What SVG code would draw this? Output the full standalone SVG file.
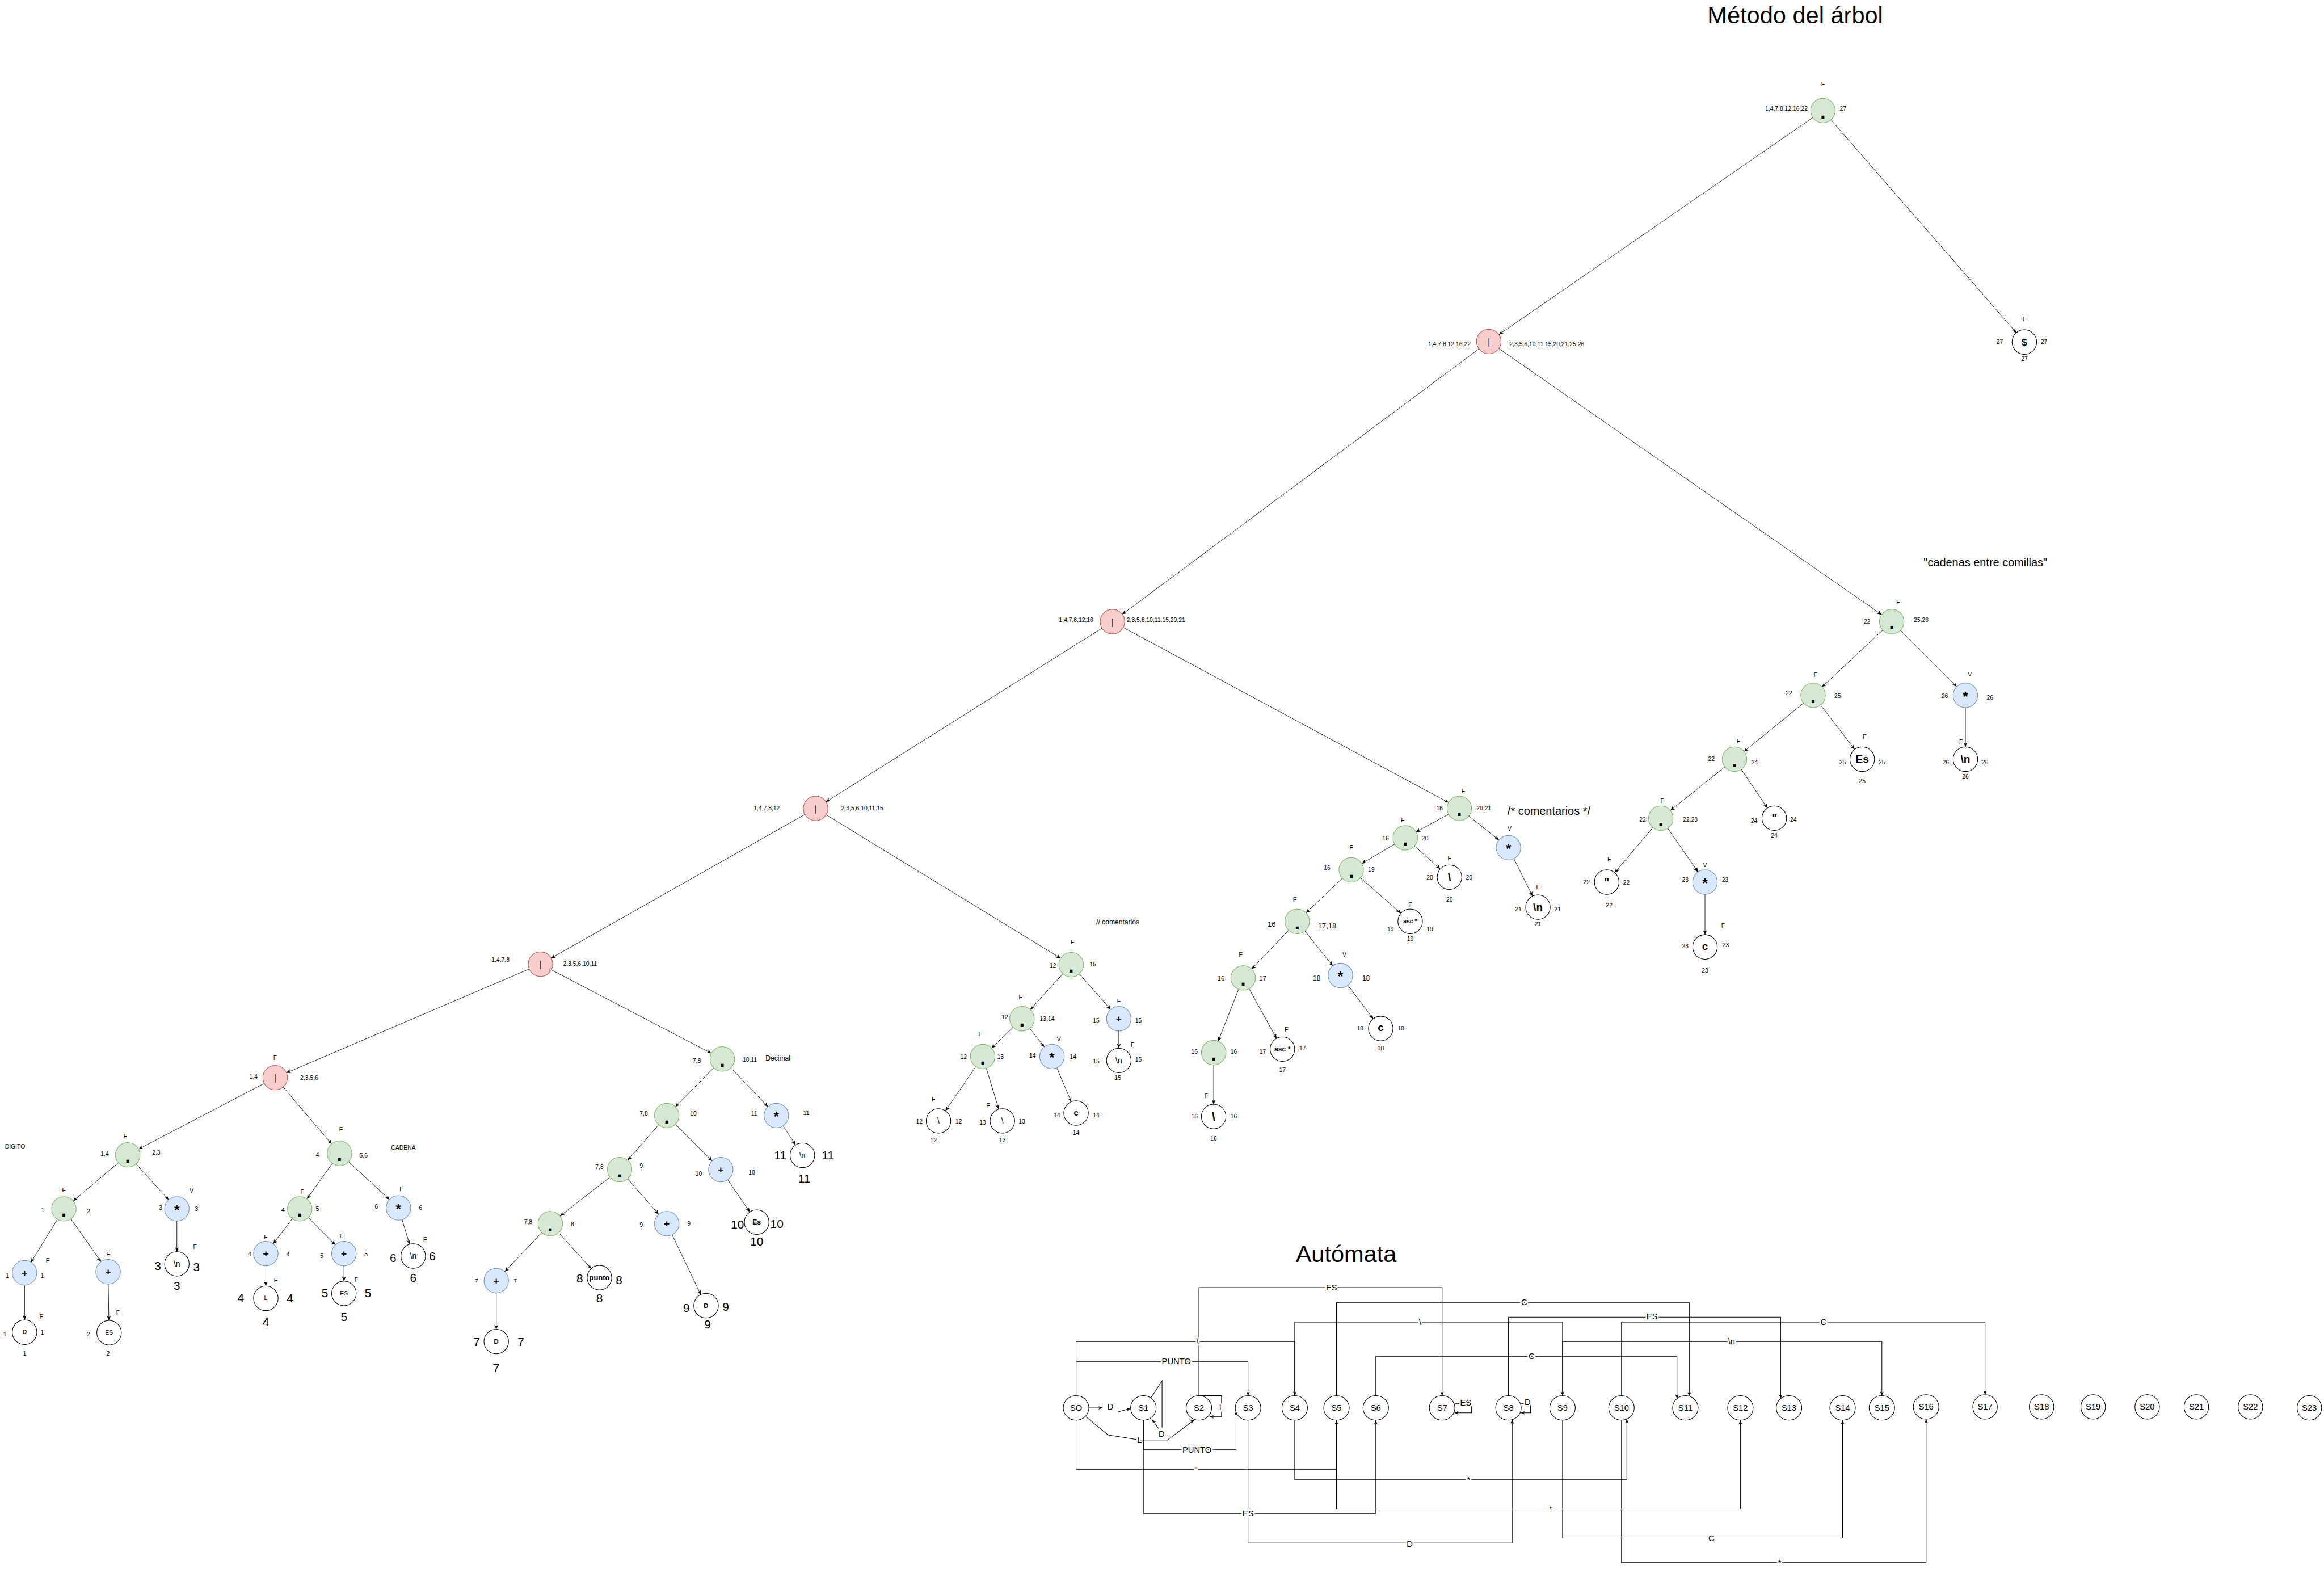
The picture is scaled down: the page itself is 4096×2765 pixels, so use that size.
<svg xmlns="http://www.w3.org/2000/svg" width="4096" height="2765" viewBox="0 0 4096 2765">
<style>
text{font-family:"Liberation Sans",Arial,Helvetica,sans-serif;fill:#000}
.g{fill:#d5e8d4;stroke:#82b366;stroke-width:1.2}
.r{fill:#f8cecc;stroke:#b85450;stroke-width:1.2}
.b{fill:#dae8fc;stroke:#6c8ebf;stroke-width:1.2}
.w{fill:#fff;stroke:#000;stroke-width:1.2}
.e line{stroke:#000;stroke-width:1;marker-end:url(#ta)}
.a path{fill:none;stroke:#000;stroke-width:1.2;marker-end:url(#aa)}
.l{font-size:12px;text-anchor:middle;dominant-baseline:central}
.ls{font-size:12px;text-anchor:start;dominant-baseline:central}
.le{font-size:12px;text-anchor:end;dominant-baseline:central}
.x{text-anchor:middle;dominant-baseline:central;font-weight:bold}
.nb{font-weight:normal}
.f11{font-size:11px}.f12{font-size:12px}.f13{font-size:13px}.f14{font-size:14px}.f15{font-size:15px}.f16{font-size:16px}.f17{font-size:17px}.f20{font-size:20px}.f22{font-size:22px}.f24{font-size:24px}
.n{font-size:24px}
.dot{font-size:40px;font-weight:bold;text-anchor:middle}
.st{font-size:28px;font-weight:bold;text-anchor:middle}
.pl{font-size:20px;font-weight:bold;text-anchor:middle;dominant-baseline:central}
.pi{font-size:18px;fill:#333;text-anchor:middle;dominant-baseline:central}
.sl{font-size:17px;text-anchor:middle;dominant-baseline:central}
.el{font-size:17px;text-anchor:middle;dominant-baseline:central;stroke:#fff;stroke-width:6px;paint-order:stroke;stroke-linejoin:round}
.ttl{font-size:48px}
.cap{font-size:23px}
</style>
<defs>
<marker id="ta" markerUnits="userSpaceOnUse" markerWidth="36" markerHeight="8" refX="34" refY="4" orient="auto" overflow="visible"><path d="M0,0 L9,4 L0,8 L2.5,4 z" fill="#000"/></marker>
<marker id="aa" markerUnits="userSpaceOnUse" markerWidth="9" markerHeight="8" refX="8" refY="3.5" orient="auto" overflow="visible"><path d="M0,0 L8,3.5 L0,7 L2,3.5 z" fill="#000"/></marker>
</defs>
<rect width="4096" height="2765" fill="#fff"/>
<g transform="scale(0.866)">
<g id="titles">
<text class="ttl" x="3475" y="47">Método del árbol</text>
<text class="ttl" x="2637" y="2568">Autómata</text>
<text class="cap" x="3915" y="1153">"cadenas entre comillas"</text>
<text class="cap" x="3068" y="1658">/* comentarios */</text>
<text class="f14" x="2231" y="1881">// comentarios</text>
<text class="f14" x="1558" y="2158">Decimal</text>
<text class="f12" x="10" y="2337">DIGITO</text>
<text class="f12" x="796" y="2340">CADENA</text>
</g>
<g id="tree-edges" class="e">
<line x1="3710" y1="225" x2="3030" y2="695"/>
<line x1="3710" y1="225" x2="4120" y2="696"/>
<line x1="3030" y1="695" x2="2264" y2="1265"/>
<line x1="3030" y1="695" x2="3850" y2="1265"/>
<line x1="2264" y1="1265" x2="1660" y2="1645"/>
<line x1="2264" y1="1265" x2="2970" y2="1645"/>
<line x1="1660" y1="1645" x2="1100" y2="1962"/>
<line x1="1660" y1="1645" x2="2180" y2="1963"/>
<line x1="1100" y1="1962" x2="560" y2="2193"/>
<line x1="1100" y1="1962" x2="1470" y2="2155"/>
<line x1="560" y1="2193" x2="260" y2="2350"/>
<line x1="560" y1="2193" x2="691" y2="2347"/>
<line x1="260" y1="2350" x2="130" y2="2460"/>
<line x1="260" y1="2350" x2="360" y2="2460"/>
<line x1="130" y1="2460" x2="50" y2="2590"/>
<line x1="130" y1="2460" x2="220" y2="2588"/>
<line x1="50" y1="2590" x2="50" y2="2711"/>
<line x1="220" y1="2588" x2="222" y2="2712"/>
<line x1="360" y1="2460" x2="360" y2="2572"/>
<line x1="691" y1="2347" x2="610" y2="2460"/>
<line x1="691" y1="2347" x2="811" y2="2458"/>
<line x1="610" y1="2460" x2="541" y2="2551"/>
<line x1="610" y1="2460" x2="700" y2="2551"/>
<line x1="541" y1="2551" x2="541" y2="2642"/>
<line x1="700" y1="2551" x2="700" y2="2632"/>
<line x1="811" y1="2458" x2="841" y2="2556"/>
<line x1="1470" y1="2155" x2="1357" y2="2270"/>
<line x1="1470" y1="2155" x2="1580" y2="2270"/>
<line x1="1580" y1="2270" x2="1633" y2="2351"/>
<line x1="1357" y1="2270" x2="1261" y2="2380"/>
<line x1="1357" y1="2270" x2="1467" y2="2380"/>
<line x1="1467" y1="2380" x2="1540" y2="2487"/>
<line x1="1261" y1="2380" x2="1120" y2="2490"/>
<line x1="1261" y1="2380" x2="1357" y2="2490"/>
<line x1="1357" y1="2490" x2="1437" y2="2657"/>
<line x1="1120" y1="2490" x2="1010" y2="2606"/>
<line x1="1120" y1="2490" x2="1220" y2="2600"/>
<line x1="1010" y1="2606" x2="1010" y2="2730"/>
<line x1="2180" y1="1963" x2="2080" y2="2073"/>
<line x1="2180" y1="1963" x2="2277" y2="2073"/>
<line x1="2277" y1="2073" x2="2277" y2="2158"/>
<line x1="2080" y1="2073" x2="2000" y2="2150"/>
<line x1="2080" y1="2073" x2="2141" y2="2150"/>
<line x1="2141" y1="2150" x2="2190" y2="2265"/>
<line x1="2000" y1="2150" x2="1910" y2="2281"/>
<line x1="2000" y1="2150" x2="2040" y2="2281"/>
<line x1="2970" y1="1645" x2="2860" y2="1705"/>
<line x1="2970" y1="1645" x2="3070" y2="1725"/>
<line x1="3070" y1="1725" x2="3130" y2="1846"/>
<line x1="2860" y1="1705" x2="2750" y2="1770"/>
<line x1="2860" y1="1705" x2="2950" y2="1785"/>
<line x1="2750" y1="1770" x2="2640" y2="1875"/>
<line x1="2750" y1="1770" x2="2870" y2="1875"/>
<line x1="2640" y1="1875" x2="2530" y2="1990"/>
<line x1="2640" y1="1875" x2="2728" y2="1985"/>
<line x1="2728" y1="1985" x2="2810" y2="2093"/>
<line x1="2530" y1="1990" x2="2470" y2="2142"/>
<line x1="2530" y1="1990" x2="2610" y2="2135"/>
<line x1="2470" y1="2142" x2="2470" y2="2272"/>
<line x1="3850" y1="1265" x2="3690" y2="1415"/>
<line x1="3850" y1="1265" x2="4000" y2="1415"/>
<line x1="4000" y1="1415" x2="4000" y2="1545"/>
<line x1="3690" y1="1415" x2="3530" y2="1545"/>
<line x1="3690" y1="1415" x2="3790" y2="1545"/>
<line x1="3530" y1="1545" x2="3380" y2="1665"/>
<line x1="3530" y1="1545" x2="3611" y2="1665"/>
<line x1="3380" y1="1665" x2="3270" y2="1795"/>
<line x1="3380" y1="1665" x2="3470" y2="1795"/>
<line x1="3470" y1="1795" x2="3470" y2="1927"/>
</g>
<g id="tree-nodes">
<g id="n-root"><circle class="g" cx="3710" cy="225" r="25"/><text class="dot" x="3710" y="241">.</text><text class="l" x="3710" y="171">F</text><text class="le" x="3679" y="221">1,4,7,8,12,16,22</text><text class="l" x="3751" y="221">27</text></g>
<g id="n-dollar"><circle class="w" cx="4120" cy="696" r="25"/><text class="x f20" x="4120" y="696">$</text><text class="l" x="4120" y="650">F</text><text class="l" x="4070" y="696">27</text><text class="l" x="4160" y="696">27</text><text class="l" x="4120" y="730">27</text></g>
<g id="n-or1"><circle class="r" cx="3030" cy="695" r="25"/><text class="pi" x="3030" y="696">|</text><text class="le" x="2993" y="700">1,4,7,8,12,16,22</text><text class="ls" x="3072" y="700">2,3,5,6,10,11.15,20,21,25,26</text></g>
<g id="n-or2"><circle class="r" cx="2264" cy="1265" r="25"/><text class="pi" x="2264" y="1266">|</text><text class="le" x="2225" y="1261">1,4,7,8,12,16</text><text class="ls" x="2293" y="1261">2,3,5,6,10,11.15,20,21</text></g>
<g id="n-or3"><circle class="r" cx="1660" cy="1645" r="25"/><text class="pi" x="1660" y="1646">|</text><text class="le" x="1587" y="1645">1,4,7,8,12</text><text class="ls" x="1712" y="1645">2,3,5,6,10,11.15</text></g>
<g id="n-or4"><circle class="r" cx="1100" cy="1962" r="25"/><text class="pi" x="1100" y="1963">|</text><text class="le" x="1037" y="1953">1,4,7,8</text><text class="ls" x="1146" y="1961">2,3,5,6,10,11</text></g>
<g id="n-or5"><circle class="r" cx="560" cy="2193" r="25"/><text class="pi" x="560" y="2194">|</text><text class="l" x="560" y="2153">F</text><text class="l" x="516" y="2191">1,4</text><text class="ls" x="611" y="2193">2,3,5,6</text></g>

<g id="n-a"><circle class="g" cx="3850" cy="1265" r="25"/><text class="dot" x="3850" y="1281">.</text><text class="l" x="3863" y="1226">F</text><text class="l" x="3800" y="1265">22</text><text class="l" x="3910" y="1261">25,26</text></g>
<g id="n-b"><circle class="g" cx="3690" cy="1415" r="25"/><text class="dot" x="3690" y="1431">.</text><text class="l" x="3695" y="1373">F</text><text class="l" x="3641" y="1411">22</text><text class="l" x="3740" y="1416">25</text></g>
<g id="n-cstar"><circle class="b" cx="4000" cy="1415" r="25"/><text class="st" x="4000" y="1427">*</text><text class="l" x="4009" y="1372">V</text><text class="l" x="3958" y="1416">26</text><text class="l" x="4050" y="1420">26</text></g>
<g id="n-cn"><circle class="w" cx="4000" cy="1545" r="25"/><text class="x f22" x="4000" y="1545">\n</text><text class="l" x="3991" y="1510">F</text><text class="l" x="3960" y="1551">26</text><text class="l" x="4040" y="1551">26</text><text class="l" x="4000" y="1580">26</text></g>
<g id="n-d"><circle class="g" cx="3530" cy="1545" r="25"/><text class="dot" x="3530" y="1561">.</text><text class="l" x="3538" y="1509">F</text><text class="l" x="3483" y="1545">22</text><text class="l" x="3571" y="1551">24</text></g>
<g id="n-es25"><circle class="w" cx="3790" cy="1545" r="25"/><text class="x f22" x="3790" y="1545">Es</text><text class="l" x="3795" y="1499">F</text><text class="l" x="3750" y="1551">25</text><text class="l" x="3830" y="1551">25</text><text class="l" x="3790" y="1590">25</text></g>
<g id="n-e"><circle class="g" cx="3380" cy="1665" r="25"/><text class="dot" x="3380" y="1681">.</text><text class="l" x="3383" y="1630">F</text><text class="l" x="3343" y="1668">22</text><text class="l" x="3440" y="1668">22,23</text></g>
<g id="n-q24"><circle class="w" cx="3611" cy="1665" r="25"/><text class="x f22" x="3611" y="1665">"</text><text class="l" x="3570" y="1670">24</text><text class="l" x="3650" y="1668">24</text><text class="l" x="3611" y="1700">24</text></g>
<g id="n-q22"><circle class="w" cx="3270" cy="1795" r="25"/><text class="x f22" x="3270" y="1795">"</text><text class="l" x="3275" y="1749">F</text><text class="l" x="3229" y="1795">22</text><text class="l" x="3310" y="1796">22</text><text class="l" x="3275" y="1842">22</text></g>
<g id="n-estar"><circle class="b" cx="3470" cy="1795" r="25"/><text class="st" x="3470" y="1807">*</text><text class="l" x="3470" y="1760">V</text><text class="l" x="3430" y="1791">23</text><text class="l" x="3511" y="1791">23</text></g>
<g id="n-c23"><circle class="w" cx="3470" cy="1927" r="25"/><text class="x f22" x="3470" y="1925">c</text><text class="l" x="3507" y="1884">F</text><text class="l" x="3430" y="1925">23</text><text class="l" x="3512" y="1923">23</text><text class="l" x="3470" y="1975">23</text></g>

<g id="n-p1"><circle class="g" cx="2970" cy="1645" r="25"/><text class="dot" x="2970" y="1661">.</text><text class="l" x="2978" y="1610">F</text><text class="l" x="2930" y="1645">16</text><text class="l" x="3020" y="1645">20,21</text></g>
<g id="n-p2"><circle class="g" cx="2860" cy="1705" r="25"/><text class="dot" x="2860" y="1721">.</text><text class="l" x="2855" y="1669">F</text><text class="l" x="2820" y="1706">16</text><text class="l" x="2900" y="1706">20</text></g>
<g id="n-p1star"><circle class="b" cx="3070" cy="1725" r="25"/><text class="st" x="3070" y="1737">*</text><text class="l" x="3072" y="1686">V</text></g>
<g id="n-n21"><circle class="w" cx="3130" cy="1846" r="25"/><text class="x f22" x="3130" y="1846">\n</text><text class="l" x="3130" y="1806">F</text><text class="l" x="3090" y="1850">21</text><text class="l" x="3170" y="1850">21</text><text class="l" x="3130" y="1880">21</text></g>
<g id="n-bs20"><circle class="w" cx="2950" cy="1785" r="25"/><text class="x f24" x="2950" y="1785">\</text><text class="l" x="2950" y="1746">F</text><text class="l" x="2910" y="1786">20</text><text class="l" x="2990" y="1786">20</text><text class="l" x="2950" y="1831">20</text></g>
<g id="n-p3"><circle class="g" cx="2750" cy="1770" r="25"/><text class="dot" x="2750" y="1786">.</text><text class="l" x="2750" y="1725">F</text><text class="l" x="2701" y="1766">16</text><text class="l" x="2791" y="1770">19</text></g>
<g id="n-asc19"><circle class="w" cx="2870" cy="1875" r="25"/><text class="x f12" x="2870" y="1875">asc *</text><text class="l" x="2870" y="1841">F</text><text class="l" x="2830" y="1891">19</text><text class="l" x="2910" y="1891">19</text><text class="l" x="2870" y="1911">19</text></g>
<g id="n-p4"><circle class="g" cx="2640" cy="1875" r="25"/><text class="dot" x="2640" y="1891">.</text><text class="l" x="2635" y="1831">F</text><text class="l f15" x="2588" y="1880">16</text><text class="l f15" x="2701" y="1884">17,18</text></g>
<g id="n-p4star"><circle class="b" cx="2728" cy="1985" r="25"/><text class="st" x="2728" y="1997">*</text><text class="l" x="2736" y="1943">V</text><text class="l f14" x="2680" y="1991">18</text><text class="l f14" x="2780" y="1991">18</text></g>
<g id="n-c18"><circle class="w" cx="2810" cy="2093" r="25"/><text class="x f22" x="2810" y="2091">c</text><text class="l" x="2768" y="2093">18</text><text class="l" x="2851" y="2093">18</text><text class="l" x="2810" y="2133">18</text></g>
<g id="n-p5"><circle class="g" cx="2530" cy="1990" r="25"/><text class="dot" x="2530" y="2006">.</text><text class="l" x="2525" y="1943">F</text><text class="l f13" x="2485" y="1991">16</text><text class="l f13" x="2570" y="1991">17</text></g>
<g id="n-asc17"><circle class="w" cx="2610" cy="2135" r="25"/><text class="x f14" x="2610" y="2135">asc *</text><text class="l" x="2618" y="2095">F</text><text class="l" x="2570" y="2140">17</text><text class="l" x="2651" y="2133">17</text><text class="l" x="2610" y="2177">17</text></g>
<g id="n-p6"><circle class="g" cx="2470" cy="2142" r="25"/><text class="dot" x="2470" y="2158">.</text><text class="l" x="2431" y="2140">16</text><text class="l" x="2511" y="2140">16</text></g>
<g id="n-bs16"><circle class="w" cx="2470" cy="2272" r="25"/><text class="x f24" x="2470" y="2272">\</text><text class="l" x="2455" y="2230">F</text><text class="l" x="2431" y="2272">16</text><text class="l" x="2511" y="2272">16</text><text class="l" x="2470" y="2317">16</text></g>

<g id="n-q1"><circle class="g" cx="2180" cy="1963" r="25"/><text class="dot" x="2180" y="1979">.</text><text class="l" x="2183" y="1918">F</text><text class="l" x="2143" y="1965">12</text><text class="l" x="2224" y="1963">15</text></g>
<g id="n-q2"><circle class="g" cx="2080" cy="2073" r="25"/><text class="dot" x="2080" y="2089">.</text><text class="l" x="2077" y="2029">F</text><text class="l" x="2045" y="2070">12</text><text class="l" x="2131" y="2073">13,14</text></g>
<g id="n-q1plus"><circle class="b" cx="2277" cy="2073" r="25"/><text class="pl" x="2277" y="2073">+</text><text class="l" x="2277" y="2038">F</text><text class="l" x="2231" y="2077">15</text><text class="l" x="2317" y="2077">15</text></g>
<g id="n-n15"><circle class="w" cx="2277" cy="2158" r="25"/><text class="x nb f16" x="2277" y="2158">\n</text><text class="l" x="2305" y="2127">F</text><text class="l" x="2231" y="2160">15</text><text class="l" x="2317" y="2157">15</text><text class="l" x="2275" y="2194">15</text></g>
<g id="n-q3"><circle class="g" cx="2000" cy="2150" r="25"/><text class="dot" x="2000" y="2166">.</text><text class="l" x="1995" y="2104">F</text><text class="l" x="1961" y="2151">12</text><text class="l" x="2036" y="2151">13</text></g>
<g id="n-q2star"><circle class="b" cx="2141" cy="2150" r="25"/><text class="st" x="2141" y="2162">*</text><text class="l" x="2155" y="2115">V</text><text class="l" x="2101" y="2148">14</text><text class="l" x="2184" y="2151">14</text></g>
<g id="n-c14"><circle class="w" cx="2190" cy="2265" r="25"/><text class="x f17" x="2190" y="2264">c</text><text class="l" x="2151" y="2270">14</text><text class="l" x="2231" y="2270">14</text><text class="l" x="2190" y="2305">14</text></g>
<g id="n-bs12"><circle class="w" cx="1910" cy="2281" r="25"/><text class="x nb f16" x="1910" y="2281">\</text><text class="l" x="1900" y="2237">F</text><text class="l" x="1871" y="2282">12</text><text class="l" x="1951" y="2282">12</text><text class="l" x="1900" y="2320">12</text></g>
<g id="n-bs13"><circle class="w" cx="2040" cy="2281" r="25"/><text class="x nb f16" x="2040" y="2281">\</text><text class="l" x="2011" y="2250">F</text><text class="l" x="2000" y="2285">13</text><text class="l" x="2080" y="2282">13</text><text class="l" x="2040" y="2320">13</text></g>

<g id="n-r1"><circle class="g" cx="1470" cy="2155" r="25"/><text class="dot" x="1470" y="2171">.</text><text class="l" x="1418" y="2159">7,8</text><text class="l" x="1526" y="2157">10,11</text></g>
<g id="n-r2"><circle class="g" cx="1357" cy="2270" r="25"/><text class="dot" x="1357" y="2286">.</text><text class="l" x="1310" y="2266">7,8</text><text class="l" x="1411" y="2266">10</text></g>
<g id="n-r1star"><circle class="b" cx="1580" cy="2270" r="25"/><text class="st" x="1580" y="2282">*</text><text class="l" x="1535" y="2266">11</text><text class="l" x="1641" y="2265">11</text></g>
<g id="n-n11"><circle class="w" cx="1633" cy="2351" r="25"/><text class="x nb f14" x="1633" y="2351">\n</text><text class="l n" x="1588" y="2351">11</text><text class="l n" x="1685" y="2351">11</text><text class="l n" x="1637" y="2398">11</text></g>
<g id="n-r3"><circle class="g" cx="1261" cy="2380" r="25"/><text class="dot" x="1261" y="2396">.</text><text class="l" x="1220" y="2375">7,8</text><text class="l" x="1305" y="2372">9</text></g>
<g id="n-r2plus"><circle class="b" cx="1467" cy="2380" r="25"/><text class="pl" x="1467" y="2380">+</text><text class="l" x="1422" y="2389">10</text><text class="l" x="1530" y="2386">10</text></g>
<g id="n-es10"><circle class="w" cx="1540" cy="2487" r="25"/><text class="x f14" x="1540" y="2487">Es</text><text class="l n" x="1501" y="2491">10</text><text class="l n" x="1581" y="2490">10</text><text class="l n" x="1540" y="2526">10</text></g>
<g id="n-r4"><circle class="g" cx="1120" cy="2490" r="25"/><text class="dot" x="1120" y="2506">.</text><text class="l" x="1075" y="2487">7,8</text><text class="l" x="1165" y="2491">8</text></g>
<g id="n-r3plus"><circle class="b" cx="1357" cy="2490" r="25"/><text class="pl" x="1357" y="2490">+</text><text class="l" x="1305" y="2492">9</text><text class="l" x="1402" y="2490">9</text></g>
<g id="n-d9"><circle class="w" cx="1437" cy="2657" r="25"/><text class="x f13" x="1437" y="2657">D</text><text class="l n" x="1397" y="2661">9</text><text class="l n" x="1477" y="2659">9</text><text class="l n" x="1440" y="2695">9</text></g>
<g id="n-punto"><circle class="w" cx="1220" cy="2600" r="25"/><text class="x f15" x="1220" y="2600">punto</text><text class="l n" x="1180" y="2601">8</text><text class="l n" x="1260" y="2604">8</text><text class="l n" x="1220" y="2642">8</text></g>
<g id="n-r4plus"><circle class="b" cx="1010" cy="2606" r="25"/><text class="pl" x="1010" y="2606">+</text><text class="l f11" x="970" y="2606">7</text><text class="l f11" x="1049" y="2606">7</text></g>
<g id="n-d7"><circle class="w" cx="1010" cy="2730" r="25"/><text class="x f13" x="1010" y="2730">D</text><text class="l n" x="970" y="2730">7</text><text class="l n" x="1060" y="2730">7</text><text class="l n" x="1010" y="2784">7</text></g>

<g id="n-g1"><circle class="g" cx="260" cy="2350" r="25"/><text class="dot" x="260" y="2366">.</text><text class="l" x="255" y="2312">F</text><text class="l" x="213" y="2348">1,4</text><text class="l" x="318" y="2346">2,3</text></g>
<g id="n-g2"><circle class="g" cx="130" cy="2460" r="25"/><text class="dot" x="130" y="2476">.</text><text class="l" x="130" y="2422">F</text><text class="l" x="87" y="2463">1</text><text class="l" x="180" y="2465">2</text></g>
<g id="n-g1star"><circle class="b" cx="360" cy="2460" r="25"/><text class="st" x="360" y="2472">*</text><text class="l" x="390" y="2423">V</text><text class="l" x="327" y="2458">3</text><text class="l" x="400" y="2460">3</text></g>
<g id="n-n3"><circle class="w" cx="360" cy="2572" r="25"/><text class="x nb f16" x="360" y="2572">\n</text><text class="l" x="397" y="2537">F</text><text class="l n" x="321" y="2576">3</text><text class="l n" x="400" y="2578">3</text><text class="l n" x="360" y="2616">3</text></g>
<g id="n-g2plusl"><circle class="b" cx="50" cy="2590" r="25"/><text class="pl" x="50" y="2590">+</text><text class="l" x="97" y="2565">F</text><text class="l" x="15" y="2596">1</text><text class="l" x="86" y="2596">1</text></g>
<g id="n-g2plusr"><circle class="b" cx="220" cy="2588" r="25"/><text class="pl" x="220" y="2588">+</text><text class="l" x="220" y="2553">F</text></g>
<g id="n-d1"><circle class="w" cx="50" cy="2711" r="25"/><text class="x f12" x="50" y="2711">D</text><text class="l" x="84" y="2680">F</text><text class="l" x="10" y="2715">1</text><text class="l" x="86" y="2712">1</text><text class="l" x="50" y="2755">1</text></g>
<g id="n-es2"><circle class="w" cx="222" cy="2712" r="25"/><text class="x nb f12" x="222" y="2712">ES</text><text class="l" x="240" y="2672">F</text><text class="l" x="180" y="2715">2</text><text class="l" x="220" y="2755">2</text></g>
<g id="n-g3"><circle class="g" cx="691" cy="2347" r="25"/><text class="dot" x="691" y="2363">.</text><text class="l" x="694" y="2299">F</text><text class="l" x="646" y="2350">4</text><text class="l" x="740" y="2352">5,6</text></g>
<g id="n-g4"><circle class="g" cx="610" cy="2460" r="25"/><text class="dot" x="610" y="2476">.</text><text class="l" x="615" y="2426">F</text><text class="l" x="576" y="2463">4</text><text class="l" x="646" y="2460">5</text></g>
<g id="n-g3star"><circle class="b" cx="811" cy="2458" r="25"/><text class="st" x="811" y="2470">*</text><text class="l" x="817" y="2420">F</text><text class="l" x="766" y="2455">6</text><text class="l" x="856" y="2458">6</text></g>
<g id="n-n6"><circle class="w" cx="841" cy="2556" r="25"/><text class="x nb f16" x="841" y="2556">\n</text><text class="l" x="865" y="2522">F</text><text class="l n" x="800" y="2560">6</text><text class="l n" x="880" y="2556">6</text><text class="l n" x="841" y="2600">6</text></g>
<g id="n-g4plusl"><circle class="b" cx="541" cy="2551" r="25"/><text class="pl" x="541" y="2551">+</text><text class="l" x="541" y="2518">F</text><text class="l" x="508" y="2553">4</text><text class="l" x="586" y="2553">4</text></g>
<g id="n-g4plusr"><circle class="b" cx="700" cy="2551" r="25"/><text class="pl" x="700" y="2551">+</text><text class="l" x="695" y="2516">F</text><text class="l" x="655" y="2556">5</text><text class="l" x="745" y="2553">5</text></g>
<g id="n-l4"><circle class="w" cx="541" cy="2642" r="25"/><text class="x nb f12" x="541" y="2642">L</text><text class="l" x="561" y="2606">F</text><text class="l n" x="490" y="2640">4</text><text class="l n" x="590" y="2641">4</text><text class="l n" x="541" y="2690">4</text></g>
<g id="n-es5"><circle class="w" cx="700" cy="2632" r="25"/><text class="x nb f12" x="700" y="2632">ES</text><text class="l" x="725" y="2604">F</text><text class="l n" x="661" y="2631">5</text><text class="l n" x="749" y="2631">5</text><text class="l n" x="700" y="2680">5</text></g>
</g>

<g id="automaton-edges" class="a">
<path d="M2216,2865 H2244"/>
<path d="M2276,2873 L2301,2866"/>
<path d="M2342,2845 L2365,2810 V2905" style="marker-end:none"/>
<path d="M2358,2907 L2345,2889"/>
<path d="M2210,2883 L2255,2920 L2320,2930.5 L2376,2930.5 L2431,2889"/>
<path d="M2440,2840 H2486 V2883 H2462"/>
<path d="M2440,2840 V2620 H2935 V2840"/>
<path d="M2190,2840 V2771 H2540 V2840"/>
<path d="M2190,2840 V2730 H2635 V2840"/>
<path d="M2635,2840 V2690.6 H3180 V2840"/>
<path d="M2327,2890 V2950 H2515.6 V2872"/>
<path d="M2327,2890 V3080 H2800 V2890"/>
<path d="M2540,2890 V3140 H3077.6 V2889"/>
<path d="M2190,2890 V2990 H2720 V2890"/>
<path d="M2635,2890 V3010.6 H3311 V2888"/>
<path d="M2720,2890 V3071 H3542 V2890"/>
<path d="M2720,2840 V2650.5 H3438 V2841"/>
<path d="M2800,2840 V2760.6 H3413 V2846"/>
<path d="M2961,2856 H2995 V2875 H2960"/>
<path d="M3095,2856 H3115 V2875 H3095"/>
<path d="M3070,2840 V2680.5 H3624 V2846"/>
<path d="M3300,2840 V2690.6 H4040 V2838"/>
<path d="M3180,2840 V2730 H3830 V2840"/>
<path d="M3180,2890 V3130 H3750 V2890"/>
<path d="M3300,2890 V3180 H3920 V2888"/>
</g>
<g id="automaton-labels">
<text class="el" x="2260" y="2863">D</text>
<text class="el" x="2364" y="2918">D</text>
<text class="el" x="2319" y="2931">L</text>
<text class="el" x="2486" y="2864">L</text>
<text class="el" x="2710" y="2620">ES</text>
<text class="el" x="2394" y="2770">PUNTO</text>
<text class="el" x="2437" y="2730">\</text>
<text class="el" x="2890" y="2691">\</text>
<text class="el" x="2436" y="2950">PUNTO</text>
<text class="el" x="2540" y="3080">ES</text>
<text class="el" x="2869" y="3142">D</text>
<text class="el" x="2434" y="2991">"</text>
<text class="el" x="2989" y="3012">*</text>
<text class="el" x="3157" y="3072">"</text>
<text class="el" x="3102" y="2650">C</text>
<text class="el" x="3117" y="2760">C</text>
<text class="el" x="2983" y="2855">ES</text>
<text class="el" x="3109" y="2853">D</text>
<text class="el" x="3362" y="2679">ES</text>
<text class="el" x="3711" y="2691">C</text>
<text class="el" x="3524" y="2730">\n</text>
<text class="el" x="3483" y="3131">C</text>
<text class="el" x="3622" y="3180">*</text>
</g>
<g id="automaton-states">
<g id="s0"><ellipse class="w" cx="2190" cy="2865" rx="26" ry="25"/><text class="sl" x="2190" y="2865">SO</text></g>
<g id="s1"><ellipse class="w" cx="2327" cy="2865" rx="26" ry="25"/><text class="sl" x="2327" y="2865">S1</text></g>
<g id="s2"><ellipse class="w" cx="2440" cy="2865" rx="26" ry="25"/><text class="sl" x="2440" y="2865">S2</text></g>
<g id="s3"><ellipse class="w" cx="2540" cy="2865" rx="26" ry="25"/><text class="sl" x="2540" y="2865">S3</text></g>
<g id="s4"><ellipse class="w" cx="2635" cy="2865" rx="26" ry="25"/><text class="sl" x="2635" y="2865">S4</text></g>
<g id="s5"><ellipse class="w" cx="2720" cy="2865" rx="26" ry="25"/><text class="sl" x="2720" y="2865">S5</text></g>
<g id="s6"><ellipse class="w" cx="2800" cy="2865" rx="26" ry="25"/><text class="sl" x="2800" y="2865">S6</text></g>
<g id="s7"><ellipse class="w" cx="2935" cy="2865" rx="26" ry="25"/><text class="sl" x="2935" y="2865">S7</text></g>
<g id="s8"><ellipse class="w" cx="3070" cy="2865" rx="26" ry="25"/><text class="sl" x="3070" y="2865">S8</text></g>
<g id="s9"><ellipse class="w" cx="3180" cy="2865" rx="26" ry="25"/><text class="sl" x="3180" y="2865">S9</text></g>
<g id="s10"><ellipse class="w" cx="3300" cy="2865" rx="26" ry="25"/><text class="sl" x="3300" y="2865">S10</text></g>
<g id="s11"><ellipse class="w" cx="3430" cy="2865" rx="26" ry="25"/><text class="sl" x="3430" y="2865">S11</text></g>
<g id="s12"><ellipse class="w" cx="3542" cy="2865" rx="26" ry="25"/><text class="sl" x="3542" y="2865">S12</text></g>
<g id="s13"><ellipse class="w" cx="3641" cy="2865" rx="26" ry="25"/><text class="sl" x="3641" y="2865">S13</text></g>
<g id="s14"><ellipse class="w" cx="3750" cy="2865" rx="26" ry="25"/><text class="sl" x="3750" y="2865">S14</text></g>
<g id="s15"><ellipse class="w" cx="3830" cy="2865" rx="26" ry="25"/><text class="sl" x="3830" y="2865">S15</text></g>
<g id="s16"><ellipse class="w" cx="3920" cy="2863" rx="26" ry="25"/><text class="sl" x="3920" y="2863">S16</text></g>
<g id="s17"><ellipse class="w" cx="4040" cy="2863" rx="25" ry="25"/><text class="sl" x="4040" y="2863">S17</text></g>
<g id="s18"><ellipse class="w" cx="4155" cy="2863" rx="25" ry="25"/><text class="sl" x="4155" y="2863">S18</text></g>
<g id="s19"><ellipse class="w" cx="4260" cy="2863" rx="25" ry="25"/><text class="sl" x="4260" y="2863">S19</text></g>
<g id="s20"><ellipse class="w" cx="4370" cy="2863" rx="25" ry="25"/><text class="sl" x="4370" y="2863">S20</text></g>
<g id="s21"><ellipse class="w" cx="4470" cy="2863" rx="25" ry="25"/><text class="sl" x="4470" y="2863">S21</text></g>
<g id="s22"><ellipse class="w" cx="4580" cy="2863" rx="25" ry="25"/><text class="sl" x="4580" y="2863">S22</text></g>
<g id="s23"><ellipse class="w" cx="4700" cy="2865" rx="25" ry="25"/><text class="sl" x="4700" y="2865">S23</text></g>
</g>
</g>
</svg>
